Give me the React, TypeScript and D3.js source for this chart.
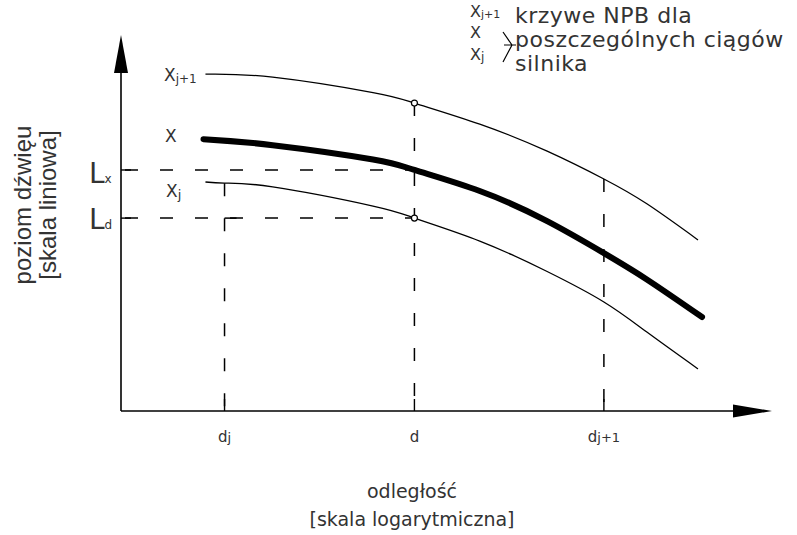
import React from "react"
import * as d3 from "d3"

// odległość (skala log) i poziom (skala liniowa), wartości umowne
const distUpper = [2.45, 5, 14.5, 22.5, 45, 92, 168, 265, 456]
const levelUpper = [89.6, 88.8, 84.7, 81.9, 76.3, 69.1, 61.7, 55.1, 45.5]
const distMain = [2.4, 5, 14.5, 22.5, 45, 92, 168, 265, 476]
const levelMain = [72.3, 70.7, 66.9, 64.1, 58.5, 50.5, 42.0, 35.0, 25.0]
const distLower = [2.45, 3, 5, 14.5, 22.5, 45, 92, 168, 265, 456]
const levelLower = [60.9, 60.6, 59.6, 54.5, 51.3, 45.2, 37.1, 29.0, 21.0, 11.2]

const dTicks = [3, 22.5, 168]
const dTickLabels = [["d", "j"], ["d", ""], ["d", "j+1"]]
const Lx = 64.1
const Ld = 51.3

const W = 797
const H = 535
const FONT = "'DejaVu Sans', Verdana, sans-serif"
const TXT = "#333"

const x = d3.scaleLog().domain([1, 1000]).range([121, 772])
const y = d3.scaleLinear().domain([0, 100]).range([411, 35])

const line = d3
  .line<[number, number]>()
  .x((p) => x(p[0]))
  .y((p) => y(p[1]))
  .curve(d3.curveNatural)

const zip = (a: number[], b: number[]) => a.map((v, i) => [v, b[i]] as [number, number])

const valueAt = (ds: number[], ls: number[], d: number) => ls[ds.indexOf(d)]

export default function App() {
  const x0 = x.range()[0]
  const y0 = y.range()[0]
  const dash = "13 22"

  const upAtD = valueAt(distUpper, levelUpper, dTicks[1])
  const upAtD1 = valueAt(distUpper, levelUpper, dTicks[2])
  const lowAtDj = valueAt(distLower, levelLower, dTicks[0])

  return (
    <svg width={W} height={H} style={{ position: "absolute", left: 0, top: 0, background: "#fff" }}>
      {/* osie */}
      <line x1={x0} y1={y0} x2={x0} y2={y.range()[1] + 6} stroke="#000" strokeWidth={1.6} />
      <polygon points={`${x0},${y.range()[1]} ${x0 + 7},${y.range()[1] + 38} ${x0 - 7},${y.range()[1] + 38}`} fill="#000" />
      <line x1={x0} y1={y0} x2={x.range()[1] - 6} y2={y0} stroke="#000" strokeWidth={1.6} />
      <polygon points={`${x.range()[1]},${y0} ${x.range()[1] - 39},${y0 - 6.5} ${x.range()[1] - 39},${y0 + 6.5}`} fill="#000" />

      {/* linie pomocnicze */}
      <g stroke="#000" strokeWidth={1.5} strokeDasharray={dash} fill="none">
        <line x1={x0 + 4} y1={y(Lx)} x2={x(dTicks[1])} y2={y(Lx)} />
        <line x1={x0 + 4} y1={y(Ld)} x2={x(dTicks[1])} y2={y(Ld)} />
        <line x1={x(dTicks[0])} y1={y(lowAtDj)} x2={x(dTicks[0])} y2={y0} />
        <line x1={x(dTicks[1])} y1={y(upAtD)} x2={x(dTicks[1])} y2={y0} />
        <line x1={x(dTicks[2])} y1={y(upAtD1)} x2={x(dTicks[2])} y2={y0} />
      </g>
      <line x1={x(dTicks[0])} y1={y(Ld)} x2={x(dTicks[0]) + 12} y2={y(Ld)} stroke="#000" strokeWidth={1.5} />

      {/* podziałki */}
      {[Lx, Ld].map((v, i) => (
        <line key={"yt" + i} x1={x0} x2={x0 + 10} y1={y(v)} y2={y(v)} stroke="#000" strokeWidth={1.4} />
      ))}
      {dTicks.map((d, i) => (
        <line key={"xt" + i} x1={x(d)} x2={x(d)} y1={y0} y2={y0 - 12} stroke="#000" strokeWidth={1.4} />
      ))}

      {/* krzywe */}
      <path d={line(zip(distUpper, levelUpper)) || ""} fill="none" stroke="#000" strokeWidth={1.3} />
      <path d={line(zip(distLower, levelLower)) || ""} fill="none" stroke="#000" strokeWidth={1.3} />
      <path d={line(zip(distMain, levelMain)) || ""} fill="none" stroke="#000" strokeWidth={6} strokeLinecap="round" />
      <circle cx={x(dTicks[1])} cy={y(upAtD)} r={3} fill="#fff" stroke="#000" strokeWidth={1.2} />
      <circle cx={x(dTicks[1])} cy={y(Ld)} r={3} fill="#fff" stroke="#000" strokeWidth={1.2} />

      <g fontFamily={FONT} fill={TXT}>
        {/* etykiety krzywych */}
        <text x={164} y={81} fontSize={17}>X<tspan fontSize={12} dy={2}>j+1</tspan></text>
        <text x={165} y={142} fontSize={17}>X</text>
        <text x={166} y={197} fontSize={17}>X<tspan fontSize={13} dy={2}>j</tspan></text>

        {/* L */}
        <text x={89} y={183} fontSize={28}>L<tspan fontSize={12}>x</tspan></text>
        <text x={89} y={229} fontSize={28}>L<tspan fontSize={12}>d</tspan></text>

        {/* d */}
        {dTicks.map((d, i) => (
          <text key={"xl" + i} x={x(d)} y={442} fontSize={15} textAnchor="middle">
            {dTickLabels[i][0]}
            <tspan fontSize={13}>{dTickLabels[i][1]}</tspan>
          </text>
        ))}

        <text x={412} y={498} fontSize={19} textAnchor="middle">odległość</text>
        <text x={412} y={526} fontSize={19} textAnchor="middle">[skala logarytmiczna]</text>

        <g transform="translate(0,205) rotate(-90)" fontFamily="'Liberation Sans', Arial, sans-serif">
          <text x={0} y={31} fontSize={24} textAnchor="middle">poziom dźwięu</text>
          <text x={0} y={56} fontSize={24} textAnchor="middle">[skala liniowa]</text>
        </g>

        {/* legenda */}
        <text x={470} y={17} fontSize={16}>X<tspan fontSize={11} dy={1}>j+1</tspan></text>
        <text x={470} y={38} fontSize={16}>X</text>
        <text x={470} y={60} fontSize={16}>X<tspan fontSize={12} dy={1}>j</tspan></text>
        <g fontSize={22} letterSpacing={0.5}>
          <text x={515} y={23}>krzywe NPB dla</text>
          <text x={515} y={47}>poszczególnych ciągów</text>
          <text x={515} y={71}>silnika</text>
        </g>
      </g>
      <path d="M503,32 L512,45 L503,62 M504,45 L516,45" fill="none" stroke="#000" strokeWidth={1.2} />
    </svg>
  )
}
